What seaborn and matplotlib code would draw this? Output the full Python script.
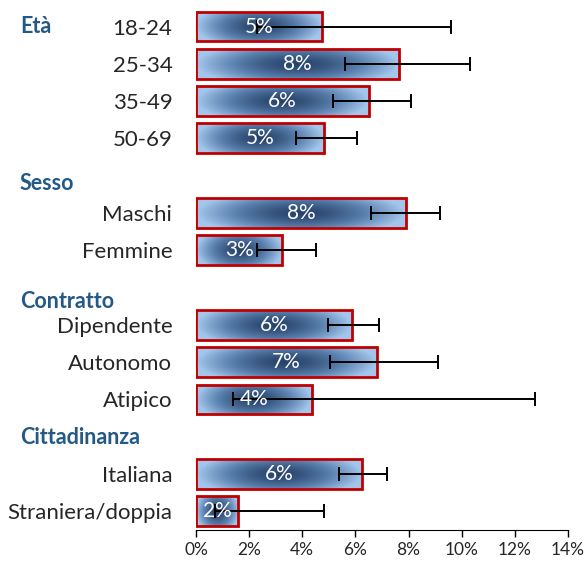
import numpy as np
import pandas as pd
import seaborn as sns
import matplotlib.pyplot as plt
from matplotlib.colors import LinearSegmentedColormap
import matplotlib.transforms as mtransforms
import matplotlib.ticker as ticker

# rows (blank strings are spacer rows between groups)
categories = ['18-24', '25-34', '35-49', '50-69', ' ',
              'Maschi', 'Femmine', '  ',
              'Dipendente', 'Autonomo', 'Atipico', '   ',
              'Italiana', 'Straniera/doppia']
values = [4.75, 7.65, 6.5, 4.8, np.nan,
          7.9, 3.25, np.nan,
          5.87, 6.8, 4.35, np.nan,
          6.25, 1.6]
ci_low = [2.3, 5.6, 5.15, 3.75, np.nan,
          6.6, 2.3, np.nan,
          4.95, 5.05, 1.4, np.nan,
          5.4, 0.7]
ci_high = [9.6, 10.3, 8.1, 6.05, np.nan,
           9.2, 4.5, np.nan,
           6.9, 9.1, 12.75, np.nan,
           7.2, 4.8]
bar_labels = ['5%', '8%', '6%', '5%', '',
              '8%', '3%', '',
              '6%', '7%', '4%', '',
              '6%', '2%']
# group headers: (text, row position)
headers = [('Età', 0), ('Sesso', 4.22), ('Contratto', 7.37), ('Cittadinanza', 11.02)]

df = pd.DataFrame({'cat': categories, 'val': values})

sns.set_style('white')
plt.rcParams['font.family'] = ['Lato', 'DejaVu Sans']

fig = plt.figure(figsize=(5.85, 5.62), dpi=100)
ax = fig.add_axes([0.335, 0.057, 0.636, 0.929])

sns.barplot(data=df, x='val', y='cat', orient='h', order=categories,
            color='#4a6f9a', width=0.8, edgecolor='#c00000', linewidth=2, ax=ax)

# gradient fill clipped to each bar
cmap = LinearSegmentedColormap.from_list('bar', ['#27436a', '#5a80ae', '#a3c6ec'])
gx, gy = np.meshgrid(np.linspace(0, 1, 200), np.linspace(0, 1, 40))
grad = np.sqrt(((gx - 0.5) / 0.5) ** 2 + 0.4 * ((gy - 0.5) / 0.5) ** 2)
grad = np.clip(grad, 0, 1) ** 1.4
for p in ax.patches:
    w = p.get_width()
    if not np.isfinite(w) or w <= 0:
        continue
    x0, y0, h = p.get_x(), p.get_y(), p.get_height()
    im = ax.imshow(grad, cmap=cmap, aspect='auto', extent=[x0, x0 + w, y0 + h, y0],
                   zorder=p.get_zorder() - 0.1, interpolation='bilinear')
    im.set_clip_path(p)
    p.set_facecolor('none')

# error bars
ypos = np.arange(len(categories))
vals = np.array(values)
err = np.array([vals - np.array(ci_low), np.array(ci_high) - vals])
mask = np.isfinite(vals)
ax.errorbar(vals[mask], ypos[mask], xerr=err[:, mask], fmt='none', ecolor='black',
            elinewidth=1.4, capsize=5, capthick=1.4, zorder=5)

# value labels
for y, v, lab in zip(ypos, vals, bar_labels):
    if lab:
        ax.text(v / 2, y, lab, ha='center', va='center', color='white',
                fontsize=15, zorder=6)

ax.set_xlim(0, 14)
ax.set_ylim(len(categories) - 0.5, -0.5)
ax.xaxis.set_major_locator(ticker.MultipleLocator(2))
ax.xaxis.set_major_formatter(ticker.FuncFormatter(lambda x, _: f'{x:.0f}%'))
ax.tick_params(axis='x', direction='out', length=5, width=1, color='black',
               labelsize=12.5, bottom=True, pad=4)
ax.tick_params(axis='y', length=0, labelsize=16, pad=17)
ax.set_xlabel('')
ax.set_ylabel('')
for s in ['top', 'right', 'left']:
    ax.spines[s].set_visible(False)
ax.spines['bottom'].set_color('black')

trans = mtransforms.blended_transform_factory(fig.transFigure, ax.transData)
for text, row in headers:
    ax.text(20 / 585, row, text, transform=trans, ha='left', va='center',
            fontsize=15.5, fontweight='bold', color='#245985')

fig.savefig('out.png', dpi=100)
